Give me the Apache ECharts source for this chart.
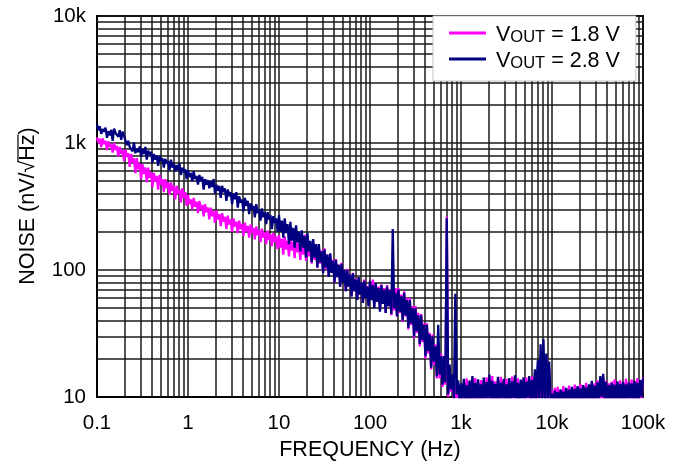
<!DOCTYPE html>
<html>
<head>
<meta charset="utf-8">
<script src="https://cdn.jsdelivr.net/npm/echarts@6/dist/echarts.min.js"></script>
<style>
  html, body { margin: 0; padding: 0; background: #fff; }
  #chart { width: 677px; height: 467px; }
</style>
</head>
<body>
<div id="chart"></div>
<script>
// Sample positions inside one decade (64 log-spaced mantissas).
const mant64 = [1.000, 1.037, 1.075, 1.114, 1.155, 1.197, 1.241, 1.287, 1.334, 1.383,
  1.433, 1.486, 1.540, 1.597, 1.655, 1.716, 1.778, 1.844, 1.911, 1.981,
  2.054, 2.129, 2.207, 2.288, 2.371, 2.458, 2.548, 2.642, 2.738, 2.839,
  2.943, 3.051, 3.162, 3.278, 3.398, 3.523, 3.652, 3.786, 3.924, 4.068,
  4.217, 4.372, 4.532, 4.698, 4.870, 5.049, 5.233, 5.425, 5.623, 5.829,
  6.043, 6.264, 6.494, 6.732, 6.978, 7.234, 7.499, 7.774, 8.058, 8.354,
  8.660, 8.977, 9.306, 9.647];
const decadeStarts = [0.1, 1, 10, 100, 1000, 10000];
const lastFreq = 100000;

// Noise density, nV/√Hz, VOUT = 1.8 V (64 samples per decade, then 100 kHz)
const noise1v8 = [
  // 0.1 – 1 Hz
  1110, 1000, 1080, 930, 1090, 980, 1040, 880,
  1030, 930, 980, 840, 1000, 880, 950, 780,
  930, 820, 880, 720, 890, 780, 830, 650,
  820, 700, 760, 580, 760, 620, 690, 520,
  680, 570, 640, 490, 640, 530, 590, 450,
  580, 500, 550, 430, 560, 470, 520, 410,
  520, 440, 490, 390, 490, 420, 460, 360,
  460, 400, 430, 340, 440, 370, 410, 320,
  // 1 – 10 Hz
  390, 330, 360, 300, 370, 315, 345, 280,
  350, 300, 325, 265, 330, 285, 310, 250,
  310, 265, 290, 235, 295, 250, 275, 222,
  280, 240, 262, 210, 268, 228, 250, 200,
  255, 220, 240, 195, 245, 210, 230, 186,
  236, 202, 222, 180, 228, 195, 215, 174,
  220, 188, 206, 166, 212, 180, 198, 160,
  204, 172, 192, 154, 196, 166, 184, 146,
  // 10 – 100 Hz
  188, 150, 176, 132, 184, 145, 170, 128,
  178, 142, 166, 124, 176, 138, 162, 120,
  182, 132, 190, 118, 176, 128, 160, 112,
  174, 120, 155, 104, 158, 112, 142, 96,
  148, 102, 132, 88, 134, 96, 120, 80,
  122, 88, 110, 74, 114, 82, 100, 68,
  102, 74, 92, 62, 95, 68, 85, 58,
  88, 64, 80, 55, 84, 60, 75, 52,
  // 100 Hz – 1 kHz
  80, 60, 84, 52, 78, 56, 74, 48,
  77, 54, 72, 46, 76, 52, 70, 44,
  68, 48, 72, 43, 72, 46, 64, 39,
  68, 43, 60, 34, 60, 37, 52, 29,
  52, 32, 46, 25, 45, 27, 38, 20,
  38, 22, 32, 16.5, 31, 18, 26, 14,
  25, 14, 22, 12, 21, 12.5, 262, 10,
  17, 11, 14.5, 9.5, 13, 9.8, 12.5, 8.8,
  // 1 kHz – 10 kHz
  11.0, 8.8, 13.2, 9.0, 14.0, 8.6, 12.8, 9.3,
  13.9, 8.9, 14.1, 9.4, 12.9, 9.1, 13.6, 8.8,
  13.4, 9.6, 14.3, 9.0, 13.8, 9.3, 14.6, 9.5,
  13.3, 8.9, 13.8, 9.2, 14.4, 9.6, 13.2, 9.0,
  13.9, 9.4, 13.0, 9.1, 14.5, 9.5, 13.6, 9.2,
  14.0, 9.3, 13.1, 9.7, 13.8, 9.0, 14.2, 9.6,
  13.4, 9.3, 14.5, 9.7, 15.5, 9.6, 17.5, 9.4,
  21.0, 9.8, 20.0, 9.5, 20.5, 9.3, 17.0, 9.6,
  // 10 kHz – 100 kHz
  11.4, 9.1, 11.8, 9.0, 12.0, 9.3, 11.2, 8.9,
  12.2, 9.4, 11.5, 9.1, 12.3, 9.2, 11.6, 9.5,
  12.5, 9.0, 11.9, 9.3, 12.7, 9.4, 12.0, 9.1,
  12.9, 9.5, 12.2, 9.2, 13.0, 9.6, 12.8, 9.3,
  13.5, 9.4, 14.0, 9.0, 14.2, 9.5, 13.4, 9.2,
  12.8, 9.6, 13.2, 9.3, 13.8, 9.1, 12.9, 9.5,
  13.5, 9.2, 12.8, 9.6, 13.9, 9.3, 13.1, 9.4,
  13.7, 9.0, 13.2, 9.5, 14.1, 9.3, 13.5, 9.6,
  // 100 kHz
  14.2
];

// Noise density, nV/√Hz, VOUT = 2.8 V (64 samples per decade, then 100 kHz)
const noise2v8 = [
  // 0.1 – 1 Hz
  1400, 1260, 1350, 1180, 1290, 1230, 1320, 1100,
  1240, 1150, 1270, 1040, 1300, 1200, 1220, 1120,
  1260, 1060, 1230, 1140, 1170, 960, 1040, 930,
  960, 860, 1010, 830, 900, 850, 940, 780,
  900, 820, 930, 740, 870, 800, 850, 700,
  820, 740, 800, 660, 790, 720, 760, 640,
  750, 690, 720, 610, 740, 640, 690, 600,
  670, 610, 690, 560, 640, 590, 620, 520,
  // 1 – 10 Hz
  610, 540, 580, 500, 600, 520, 550, 470,
  560, 500, 540, 430, 520, 470, 510, 440,
  500, 450, 520, 400, 470, 420, 460, 370,
  460, 410, 440, 350, 430, 380, 410, 330,
  400, 360, 410, 310, 380, 340, 360, 290,
  370, 320, 350, 275, 335, 300, 320, 260,
  330, 280, 300, 245, 305, 260, 285, 230,
  285, 250, 270, 210, 265, 235, 255, 200,
  // 10 – 100 Hz
  270, 200, 245, 180, 255, 195, 230, 160,
  240, 170, 215, 150, 225, 165, 200, 140,
  205, 150, 185, 125, 195, 140, 170, 115,
  175, 125, 160, 105, 160, 115, 140, 95,
  145, 105, 132, 88, 135, 95, 118, 80,
  120, 88, 110, 74, 112, 80, 100, 68,
  100, 74, 92, 62, 94, 68, 84, 58,
  88, 64, 80, 55, 82, 60, 74, 52,
  // 100 Hz – 1 kHz
  82, 58, 76, 50, 79, 56, 72, 47,
  76, 54, 70, 46, 74, 52, 69, 45,
  210, 50, 66, 43, 70, 47, 62, 40,
  66, 44, 58, 35, 58, 38, 50, 30,
  50, 33, 44, 26, 44, 28, 37, 21,
  37, 23, 31, 17, 30, 19, 25, 14.5,
  37, 15, 21, 12.5, 21, 13, 255, 10.5,
  18, 11.5, 15, 9.8, 65, 10.5, 13.5, 9.0,
  // 1 kHz – 10 kHz
  12.8, 9.2, 13.9, 9.6, 12.4, 8.9, 13.5, 9.4,
  14.6, 9.1, 12.9, 9.7, 13.8, 9.0, 12.6, 9.5,
  14.2, 9.3, 13.1, 9.8, 15.0, 9.2, 13.4, 9.6,
  12.7, 9.0, 14.4, 9.4, 13.0, 9.7, 13.9, 9.1,
  12.6, 9.5, 14.1, 9.2, 13.3, 9.8, 14.8, 9.4,
  12.9, 9.0, 13.7, 9.6, 14.3, 9.3, 13.2, 9.9,
  14.6, 9.5, 13.6, 9.6, 16.5, 9.3, 19.5, 9.8,
  26.0, 9.5, 28.5, 9.2, 22.0, 9.7, 19.0, 9.4,
  // 10 kHz – 100 kHz
  10.6, 9.0, 11.2, 9.3, 10.9, 8.8, 11.5, 9.2,
  11.0, 9.4, 11.8, 9.0, 11.4, 9.5, 12.0, 9.1,
  11.6, 9.4, 12.2, 8.9, 11.7, 9.3, 12.4, 9.6,
  11.9, 9.2, 12.6, 9.5, 13.4, 9.0, 12.3, 9.4,
  13.0, 9.7, 14.6, 10.0, 15.2, 9.6, 13.1, 9.3,
  12.4, 9.5, 12.9, 9.1, 12.5, 9.6, 13.3, 9.4,
  12.7, 9.0, 13.1, 9.5, 12.6, 9.3, 13.0, 9.7,
  12.8, 9.2, 13.4, 9.6, 12.9, 9.4, 13.6, 10.0,
  // 100 kHz
  14.0
];

const seriesNames = ['V_OUT = 1.8 V', 'V_OUT = 2.8 V'];
const seriesColors = ['#ff00ff', '#000080'];

const xTickLabels = ['0.1', '1', '10', '100', '1k', '10k', '100k'];
const yTickLabels = ['10', '100', '1k', '10k'];

// Minor grid positions: 2…9 times each decade start
const minorMultiples = [2, 3, 4, 5, 6, 7, 8, 9];
const xGridDecades = [0.1, 1, 10, 100, 1000, 10000];
const yGridDecades = [10, 100, 1000];

const FONT = '"Liberation Sans", Arial, Helvetica, sans-serif';
const GRID_COLOR = '#1a1a1a';
const GRID_WIDTH = 1.5;

// Frequency grid shared by both traces
const freqHz = [];
decadeStarts.forEach(d => mant64.forEach(m => freqHz.push(d * m)));
freqHz.push(lastFreq);

const pairs = vals => freqHz.map((f, i) => [f, vals[i]]);

const minorLines = [];
xGridDecades.forEach(d => minorMultiples.forEach(m => minorLines.push({ xAxis: d * m })));
yGridDecades.forEach(d => minorMultiples.forEach(m => minorLines.push({ yAxis: d * m })));

const chart = echarts.init(document.getElementById('chart'), null, { renderer: 'canvas' });

const legendFormatter = name => '{g| }{v|V}{s|OUT}{v|' + name.replace('V_OUT', '') + '}';

chart.setOption({
  animation: false,
  backgroundColor: '#fff',
  grid: {
    left: 97, right: 34, top: 16, bottom: 70,
    show: true, borderColor: '#000', borderWidth: 2, backgroundColor: 'transparent'
  },
  legend: {
    orient: 'vertical',
    left: 433, top: 16, z: 10,
    backgroundColor: '#fff',
    borderColor: '#c4c4c4', borderWidth: 1,
    padding: [8, 16, 9, 16],
    icon: 'rect',
    itemWidth: 37, itemHeight: 3, itemGap: 4,
    selectedMode: false,
    data: seriesNames,
    formatter: legendFormatter,
    textStyle: {
      color: '#000',
      rich: {
        g: { fontSize: 19, fontFamily: FONT, width: 5, verticalAlign: 'bottom', lineHeight: 26 },
        v: { fontSize: 21.5, fontFamily: FONT, color: '#000', verticalAlign: 'bottom', lineHeight: 26 },
        s: { fontSize: 16.5, fontFamily: FONT, color: '#000', verticalAlign: 'bottom', lineHeight: 13 }
      }
    }
  },
  xAxis: {
    type: 'log', logBase: 10, min: 0.1, max: 100000,
    name: 'FREQUENCY (Hz)', nameLocation: 'middle', nameGap: 41,
    nameTextStyle: { fontSize: 21.5, fontFamily: FONT, color: '#000' },
    axisLine: { lineStyle: { color: '#000', width: 2 } },
    axisTick: { show: false },
    axisLabel: {
      fontSize: 20.5, fontFamily: FONT, color: '#000', margin: 16,
      formatter: v => xTickLabels[Math.round(Math.log10(v)) + 1]
    },
    splitLine: { show: true, lineStyle: { color: GRID_COLOR, width: GRID_WIDTH } }
  },
  yAxis: {
    type: 'log', logBase: 10, min: 10, max: 10000,
    axisLine: { show: true, lineStyle: { color: '#000', width: 2 } },
    axisTick: { show: false },
    axisLabel: {
      fontSize: 20.5, fontFamily: FONT, color: '#000', margin: 11,
      formatter: v => yTickLabels[Math.round(Math.log10(v)) - 1]
    },
    splitLine: { show: true, lineStyle: { color: GRID_COLOR, width: GRID_WIDTH } }
  },
  series: [
    {
      name: 'grid-minor', type: 'line', data: [], z: 1, silent: true,
      markLine: {
        silent: true, z: 1, symbol: ['none', 'none'], label: { show: false },
        lineStyle: { type: 'solid', color: GRID_COLOR, width: GRID_WIDTH },
        emphasis: { disabled: true },
        animation: false,
        data: minorLines
      }
    },
    {
      name: seriesNames[0], type: 'line', data: pairs(noise1v8),
      showSymbol: false, symbol: 'none', z: 3, clip: true,
      color: seriesColors[0],
      lineStyle: { color: seriesColors[0], width: 2.3 }
    },
    {
      name: seriesNames[1], type: 'line', data: pairs(noise2v8),
      showSymbol: false, symbol: 'none', z: 4, clip: true,
      color: seriesColors[1],
      lineStyle: { color: seriesColors[1], width: 2.3 }
    }
  ]
});

// Vertical axis title with an overline over "Hz" (the radical's vinculum)
(function drawYTitle() {
  const fontPx = 21.5;
  const font = fontPx + 'px ' + FONT;
  const ctx = document.createElement('canvas').getContext('2d');
  ctx.font = font;
  const head = 'NOISE (nV/√';
  const root = 'Hz';
  const full = head + root + ')';
  const wFull = ctx.measureText(full).width;
  const wHead = ctx.measureText(head).width;
  const wRoot = ctx.measureText(root).width;
  const x0 = -wFull / 2 + wHead - 1;
  chart.setOption({
    graphic: [{
      type: 'group', x: 28, y: 206, rotation: Math.PI / 2,
      children: [
        { type: 'text', style: { text: full, font: font, fill: '#000', align: 'center', verticalAlign: 'middle' } },
        { type: 'line', shape: { x1: x0, y1: -10, x2: x0 + wRoot + 1, y2: -10 }, style: { stroke: '#000', lineWidth: 1.2 } }
      ]
    }]
  });
})();
</script>
</body>
</html>
